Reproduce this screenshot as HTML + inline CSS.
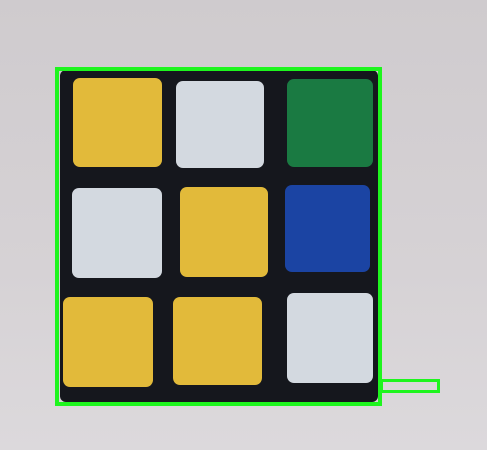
<!DOCTYPE html>
<html><head><style>
html,body{margin:0;padding:0;}
body{width:487px;height:450px;position:relative;overflow:hidden;background:linear-gradient(#cfcbce 0%,#d6d2d5 60%,#dcd9dc 100%);}
.s{position:absolute;border-radius:7px;}
.y{background:#e2ba3a;}
.w{background:#d3d9e0;}
.g{background:#1a7a42;}
.b{background:#1b44a3;}
</style></head><body>
<div style="position:absolute;left:60px;top:70px;width:318px;height:332px;background:#15171d;border-radius:6px;"></div>
<div class="s y" style="left:73px;top:78px;width:89px;height:89px;"></div>
<div class="s w" style="left:176px;top:81px;width:88px;height:87px;"></div>
<div class="s g" style="left:287px;top:79px;width:86px;height:88px;"></div>
<div class="s w" style="left:72px;top:188px;width:90px;height:90px;"></div>
<div class="s y" style="left:180px;top:187px;width:88px;height:90px;"></div>
<div class="s b" style="left:285px;top:185px;width:85px;height:87px;"></div>
<div class="s y" style="left:63px;top:297px;width:90px;height:90px;"></div>
<div class="s y" style="left:173px;top:297px;width:89px;height:88px;"></div>
<div class="s w" style="left:287px;top:293px;width:86px;height:90px;"></div>
<div style="position:absolute;left:55px;top:67px;width:319px;height:331px;border:4px solid #1ef51e;"></div>
<div style="position:absolute;left:380px;top:379px;width:54px;height:8px;border:3px solid #1ef51e;"></div>
</body></html>
